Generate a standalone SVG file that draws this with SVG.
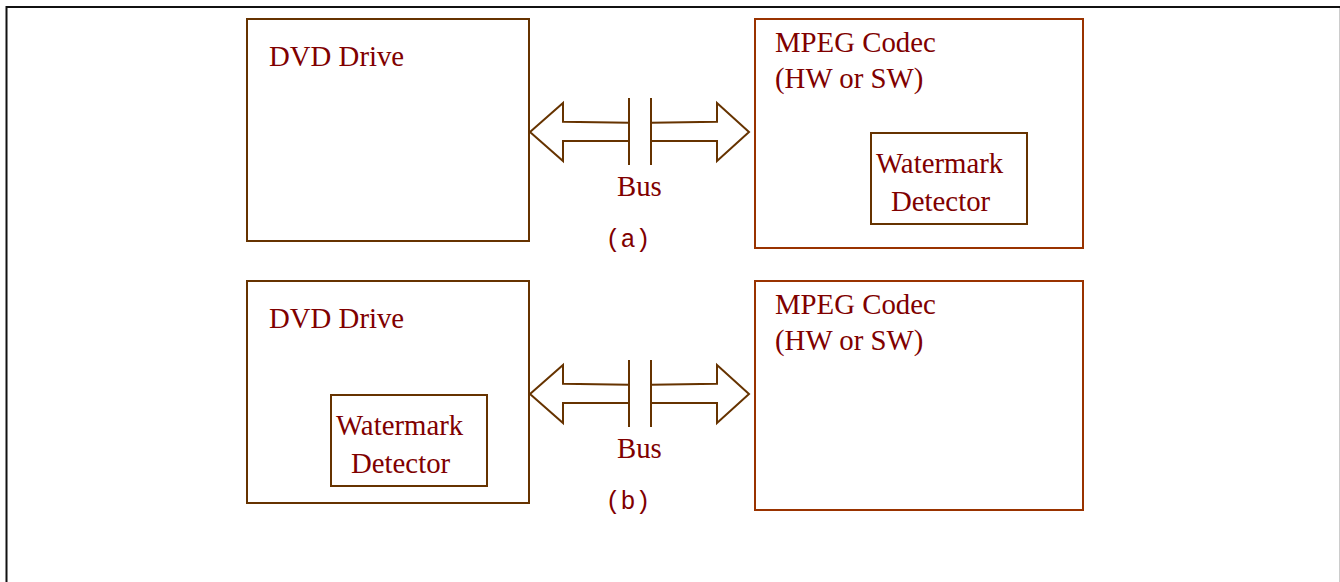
<svg xmlns="http://www.w3.org/2000/svg" width="1340" height="582" viewBox="0 0 1340 582">
<style>
.t{font-family:"Liberation Serif","Times New Roman",serif;font-size:28.8px;fill:#800000}
.c{font-family:"Liberation Mono","Courier New",monospace;font-size:25px;fill:#800000;text-anchor:middle}
.b1{fill:#fff;stroke:#663300;stroke-width:2}
.b2{fill:#fff;stroke:#993300;stroke-width:2}
.ar{fill:none;stroke:#663300;stroke-width:2;stroke-linejoin:miter}
</style>
<rect width="1340" height="582" fill="#fff"/>
<path d="M6.5,582 V7 H1340" fill="none" stroke="#111" stroke-width="2"/>
<line x1="1339.5" y1="8" x2="1339.5" y2="582" stroke="#ccc" stroke-width="1"/>

<g id="dvd-a"><rect class="b1" x="247" y="19" width="282" height="222"/><text class="t" x="269" y="66">DVD Drive</text></g>
<g id="mpeg-a"><rect class="b2" x="755" y="19" width="328" height="229"/><text class="t" x="775" y="52">MPEG Codec</text><text class="t" x="775" y="88">(HW or SW)</text></g>
<g id="wm-a"><rect class="b1" x="871" y="133" width="156" height="91"/><text class="t" x="876" y="173">Watermark</text><text class="t" x="891" y="211">Detector</text></g>
<g id="bus-a"><text class="t" x="617" y="196">Bus</text><text class="c" x="628" y="247">(a)</text></g>

<g id="dvd-b"><rect class="b1" x="247" y="281" width="282" height="222"/><text class="t" x="269" y="328">DVD Drive</text></g>
<g id="mpeg-b"><rect class="b2" x="755" y="281" width="328" height="229"/><text class="t" x="775" y="314">MPEG Codec</text><text class="t" x="775" y="350">(HW or SW)</text></g>
<g id="wm-b"><rect class="b1" x="331" y="395" width="156" height="91"/><text class="t" x="336" y="435">Watermark</text><text class="t" x="351" y="473">Detector</text></g>
<g id="bus-b"><text class="t" x="617" y="458">Bus</text><text class="c" x="628" y="509">(b)</text></g>

<g id="connectors">
<g>
<polyline class="ar" points="629,122.7 563,121.7 563,103 530,132 563,161 563,141 629,141"/>
<polyline class="ar" points="651,122.7 717,121.7 717,103 749,132 717,161 717,141 651,141"/>
<line class="ar" x1="629" y1="98" x2="629" y2="165"/>
<line class="ar" x1="651" y1="98" x2="651" y2="165"/>
</g>
<g transform="translate(0,262)">
<polyline class="ar" points="629,122.7 563,121.7 563,103 530,132 563,161 563,141 629,141"/>
<polyline class="ar" points="651,122.7 717,121.7 717,103 749,132 717,161 717,141 651,141"/>
<line class="ar" x1="629" y1="98" x2="629" y2="165"/>
<line class="ar" x1="651" y1="98" x2="651" y2="165"/>
</g>
</g>
</svg>
